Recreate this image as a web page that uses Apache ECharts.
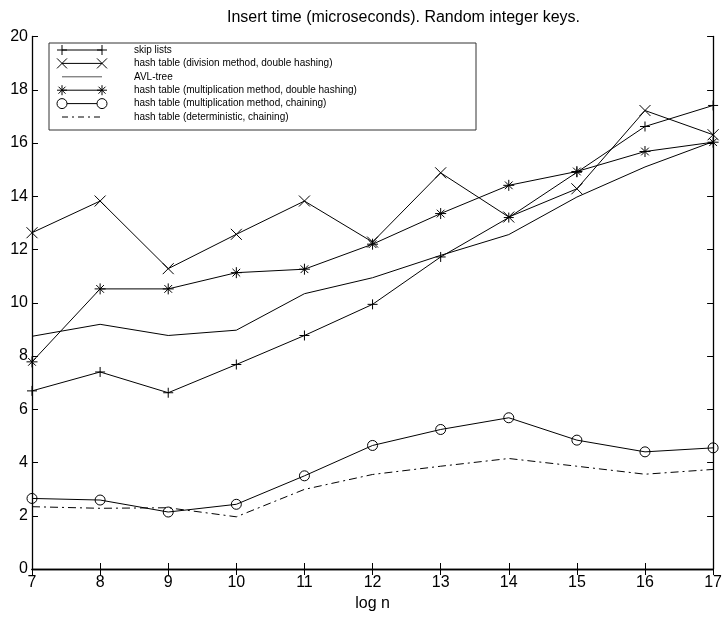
<!DOCTYPE html>
<html>
<head>
<meta charset="utf-8">
<script src="https://cdn.jsdelivr.net/npm/echarts@6/dist/echarts.min.js"></script>
<style>
html,body{margin:0;padding:0;background:#fff;}
#chart{width:725px;height:619px;}
</style>
</head>
<body>
<div id="chart"></div>
<script>
// ---- data ----
const logN = [7, 8, 9, 10, 11, 12, 13, 14, 15, 16, 17];
const skipLists = [6.69, 7.40, 6.62, 7.68, 8.77, 9.94, 11.72, 13.20, 14.90, 16.62, 17.41];
const hashDivDouble = [12.63, 13.82, 11.28, 12.57, 13.82, 12.28, 14.88, 13.22, 14.28, 17.22, 16.31];
const avlTree = [8.74, 9.19, 8.77, 8.97, 10.34, 10.94, 11.78, 12.56, 13.97, 15.10, 16.05];
const hashMulDouble = [7.78, 10.52, 10.52, 11.13, 11.26, 12.20, 13.35, 14.41, 14.93, 15.68, 16.03];
const hashMulChain = [2.65, 2.59, 2.14, 2.43, 3.50, 4.64, 5.24, 5.68, 4.84, 4.40, 4.55];
const hashDetChain = [2.34, 2.28, 2.30, 1.96, 2.99, 3.55, 3.86, 4.15, 3.86, 3.56, 3.74];
const seriesNames = [
  'skip lists',
  'hash table (division method, double hashing)',
  'AVL-tree',
  'hash table (multiplication method, double hashing)',
  'hash table (multiplication method, chaining)',
  'hash table (deterministic, chaining)'
];
const xTicks = {min: 7, max: 17, interval: 1};
const yTicks = {min: 0, max: 20, interval: 2};

// ---- styles ----
const FONT = 'Liberation Sans, Arial, Helvetica, sans-serif';
const SYM_PLUS = 'path://M5,0 L5,10 M0,5 L10,5';
const SYM_CROSS = 'path://M0,0 L10,10 M10,0 L0,10';
const SYM_STAR = 'path://M5,0 L5,10 M0,5 L10,5 M1.5,1.5 L8.5,8.5 M8.5,1.5 L1.5,8.5';

function pairs(vals) { return logN.map((x, i) => [x, vals[i]]); }

function mkSeries(name, vals, symbol, size, lineType) {
  return {
    name: name,
    type: 'line',
    data: pairs(vals),
    symbol: symbol,
    symbolSize: size,
    showSymbol: symbol !== 'none',
    showAllSymbol: true,
    lineStyle: {color: '#000', width: 1, type: lineType || 'solid'},
    itemStyle: {color: 'transparent', borderColor: '#000', borderWidth: 1},
    emphasis: {disabled: true},
    silent: true,
    z: 3
  };
}

const chart = echarts.init(document.getElementById('chart'), null, {renderer: 'canvas'});

const grid = {left: 32, right: 10, top: 36.5, bottom: 50};

// legend drawn as graphic
const legendX0 = 49, legendY0 = 43, legendW = 427, legendH = 87;
const rowY = [50, 63.4, 76.8, 90.2, 103.6, 117];
const lx1 = 62, lx2 = 102, tx = 134;
const legendChildren = [{
  type: 'rect',
  shape: {x: legendX0, y: legendY0, width: legendW, height: legendH},
  style: {fill: '#fff', stroke: '#333', lineWidth: 1}
}];
function markerShapes(kind, cx, cy) {
  const r = 5;
  const st = {stroke: '#000', lineWidth: 1, fill: null};
  if (kind === 'plus') return [
    {type: 'line', shape: {x1: cx, y1: cy - r, x2: cx, y2: cy + r}, style: st},
    {type: 'line', shape: {x1: cx - r, y1: cy, x2: cx + r, y2: cy}, style: st}];
  if (kind === 'cross') return [
    {type: 'line', shape: {x1: cx - r, y1: cy - r, x2: cx + r, y2: cy + r}, style: st},
    {type: 'line', shape: {x1: cx + r, y1: cy - r, x2: cx - r, y2: cy + r}, style: st}];
  if (kind === 'star') {
    const d = 3.5;
    return [
      {type: 'line', shape: {x1: cx, y1: cy - r, x2: cx, y2: cy + r}, style: st},
      {type: 'line', shape: {x1: cx - r, y1: cy, x2: cx + r, y2: cy}, style: st},
      {type: 'line', shape: {x1: cx - d, y1: cy - d, x2: cx + d, y2: cy + d}, style: st},
      {type: 'line', shape: {x1: cx + d, y1: cy - d, x2: cx - d, y2: cy + d}, style: st}];
  }
  if (kind === 'circle') return [
    {type: 'circle', shape: {cx: cx, cy: cy, r: r}, style: {stroke: '#000', lineWidth: 1, fill: '#fff'}}];
  return [];
}
const legendKinds = ['plus', 'cross', 'none', 'star', 'circle', 'none'];
const legendDash = [null, null, null, null, null, [6, 4, 2, 4]];
seriesNames.forEach((n, i) => {
  const y = rowY[i];
  legendChildren.push({
    type: 'line',
    shape: {x1: lx1, y1: y, x2: lx2, y2: y},
    style: {stroke: i === 2 ? '#555' : '#000', lineWidth: 1, lineDash: legendDash[i]}
  });
  markerShapes(legendKinds[i], lx1, y).forEach(s => legendChildren.push(s));
  markerShapes(legendKinds[i], lx2, y).forEach(s => legendChildren.push(s));
  legendChildren.push({
    type: 'text',
    style: {x: tx, y: y, text: n, fill: '#000', font: '10px ' + FONT, textVerticalAlign: 'middle', textAlign: 'left'}
  });
});

const baseAxisLine = {show: true, lineStyle: {color: '#000', width: 1.3}};
const tickStyle = {show: true, inside: true, length: 6, lineStyle: {color: '#000', width: 1}};

const option = {
  animation: false,
  backgroundColor: '#fff',
  title: {
    text: 'Insert time (microseconds). Random integer keys.',
    left: 222,
    top: 5,
    textStyle: {fontFamily: FONT, fontSize: 16, fontWeight: 'normal', color: '#000'}
  },
  grid: grid,
  xAxis: [{
    type: 'value', position: 'bottom',
    min: xTicks.min, max: xTicks.max, interval: xTicks.interval,
    name: 'log n', nameLocation: 'middle', nameGap: 27,
    nameTextStyle: {fontFamily: FONT, fontSize: 16, color: '#000'},
    axisLine: baseAxisLine, axisTick: tickStyle,
    axisLabel: {color: '#000', fontFamily: FONT, fontSize: 16, margin: 6},
    splitLine: {show: false}
  }, {
    type: 'value', position: 'top',
    min: xTicks.min, max: xTicks.max, interval: xTicks.interval,
    axisLine: baseAxisLine, axisTick: tickStyle,
    axisLabel: {show: false}, splitLine: {show: false}
  }],
  yAxis: [{
    type: 'value', position: 'left',
    min: yTicks.min, max: yTicks.max, interval: yTicks.interval,
    axisLine: baseAxisLine, axisTick: tickStyle,
    axisLabel: {color: '#000', fontFamily: FONT, fontSize: 16, margin: 4},
    splitLine: {show: false}
  }, {
    type: 'value', position: 'right',
    min: yTicks.min, max: yTicks.max, interval: yTicks.interval,
    axisLine: baseAxisLine, axisTick: tickStyle,
    axisLabel: {show: false}, splitLine: {show: false}
  }],
  series: [
    mkSeries(seriesNames[0], skipLists, SYM_PLUS, 10),
    mkSeries(seriesNames[1], hashDivDouble, SYM_CROSS, 11),
    mkSeries(seriesNames[2], avlTree, 'none', 0),
    mkSeries(seriesNames[3], hashMulDouble, SYM_STAR, 11),
    mkSeries(seriesNames[4], hashMulChain, 'circle', 10),
    mkSeries(seriesNames[5], hashDetChain, 'none', 0, [8, 4, 2, 4])
  ],
  graphic: [{type: 'group', z: 10, children: legendChildren}]
};
chart.setOption(option);
</script>
</body>
</html>
